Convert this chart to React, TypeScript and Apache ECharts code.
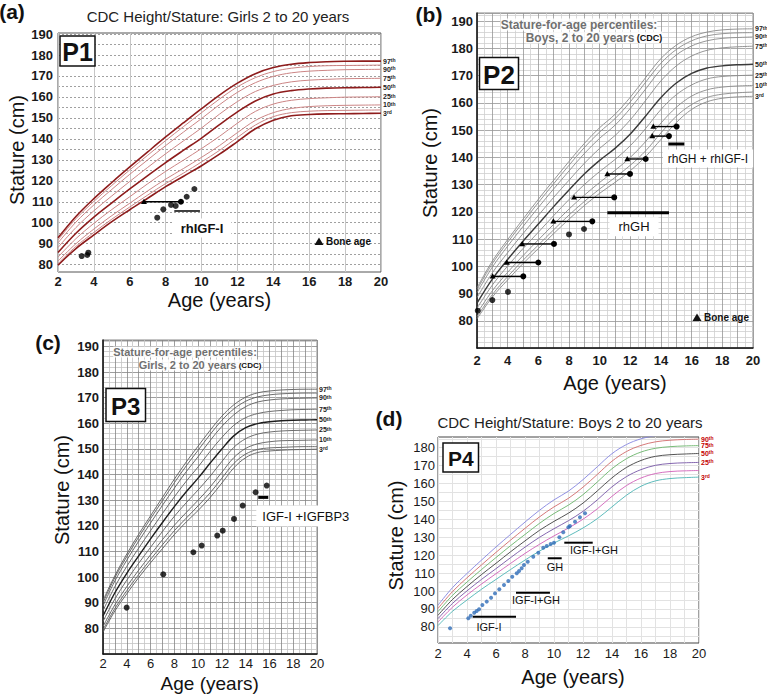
import React, { useEffect, useRef } from 'react';
import * as echarts from 'echarts';

const FONT = "'Liberation Sans', Arial, Helvetica, sans-serif";

// ---------- reference curves (age in years, stature in cm) ----------
const AGES = [2, 3, 4, 5, 6, 7, 8, 9, 10, 11, 12, 13, 14, 15, 16, 17, 18, 19, 20];

// panel (a) girls chart
const A_P3 = [79.8, 87.7, 94.2, 100.5, 106.2, 111.7, 117.2, 122.2, 127.2, 132.7, 138.7, 144.8, 148.9, 151.0, 151.6, 151.9, 152.0, 152.1, 152.2];
const A_P5 = [80.5, 88.7, 95.4, 101.7, 107.5, 113.2, 118.7, 123.7, 129.0, 134.5, 140.7, 146.6, 150.6, 152.5, 153.2, 153.5, 153.6, 153.7, 153.8];
const A_P10 = [81.7, 90.0, 97.0, 103.4, 109.3, 115.2, 120.8, 125.9, 131.2, 136.8, 143.0, 148.8, 152.5, 154.5, 155.4, 155.8, 156.0, 156.1, 156.2];
const A_P25 = [83.6, 92.4, 99.7, 106.3, 112.4, 118.6, 124.5, 129.9, 135.4, 141.2, 147.5, 153.1, 156.6, 158.4, 159.2, 159.6, 159.9, 160.0, 160.1];
const A_P50 = [85.8, 95.0, 102.7, 109.5, 116.1, 122.5, 128.7, 134.6, 140.4, 146.8, 152.9, 158.1, 161.4, 163.0, 163.8, 164.2, 164.4, 164.5, 164.6];
const A_P75 = [88.2, 97.7, 105.7, 112.8, 119.7, 126.4, 132.9, 139.1, 145.2, 151.8, 157.8, 162.6, 165.5, 167.2, 168.0, 168.4, 168.7, 168.8, 168.9];
const A_P90 = [90.4, 100.3, 108.5, 115.9, 123.1, 130.0, 136.8, 143.3, 149.7, 156.3, 162.2, 166.8, 169.8, 171.5, 172.3, 172.7, 173.0, 173.1, 173.2];
const A_P95 = [91.8, 101.9, 110.2, 117.8, 125.2, 132.2, 139.2, 145.9, 152.5, 159.0, 164.8, 169.2, 172.1, 173.7, 174.5, 174.9, 175.0, 175.1, 175.2];
const A_P97 = [92.8, 103.0, 111.5, 119.2, 126.6, 133.8, 140.9, 147.7, 154.4, 160.9, 166.6, 171.1, 174.0, 175.6, 176.4, 176.8, 177.0, 177.1, 177.1];

// panel (b) boys chart
const B_P3 = [80.7, 88.7, 95.0, 101.0, 106.5, 112.0, 117.3, 122.3, 126.8, 130.8, 135.1, 140.3, 146.6, 152.8, 157.6, 160.4, 161.7, 162.2, 162.4];
const B_P5 = [81.5, 89.6, 96.2, 102.2, 107.8, 113.4, 118.8, 123.8, 128.4, 132.6, 137.1, 142.4, 149.0, 155.1, 159.4, 162.0, 163.2, 163.7, 164.0];
const B_P10 = [82.7, 91.0, 97.8, 103.9, 109.7, 115.4, 121.0, 126.1, 130.8, 135.2, 140.0, 145.8, 152.6, 158.4, 162.5, 164.8, 165.8, 166.2, 166.4];
const B_P25 = [84.6, 93.1, 100.1, 106.5, 112.5, 118.6, 124.5, 130.0, 134.8, 139.2, 144.3, 150.6, 157.6, 163.0, 166.6, 168.8, 169.7, 170.0, 170.2];
const B_P50 = [86.5, 95.3, 102.5, 109.2, 115.5, 121.9, 128.0, 133.9, 138.9, 143.3, 148.6, 155.2, 162.0, 167.3, 170.8, 172.8, 173.6, 174.0, 174.2];
const B_P75 = [88.5, 97.6, 105.0, 112.0, 118.7, 125.3, 131.6, 137.8, 143.3, 148.0, 153.8, 160.9, 168.1, 173.6, 177.2, 179.3, 180.2, 180.6, 180.8];
const B_P90 = [90.3, 99.7, 107.4, 114.6, 121.6, 128.4, 135.0, 141.4, 147.0, 151.8, 158.0, 165.1, 172.3, 177.6, 180.9, 182.8, 183.7, 184.0, 184.2];
const B_P95 = [91.4, 101.0, 108.8, 116.2, 123.4, 130.3, 137.1, 143.6, 149.3, 154.2, 160.4, 167.6, 174.6, 179.6, 182.8, 184.6, 185.4, 185.7, 185.8];
const B_P97 = [92.1, 101.9, 109.8, 117.3, 124.6, 131.6, 138.5, 145.1, 150.9, 155.8, 162.1, 169.3, 176.3, 181.2, 184.3, 186.0, 186.8, 187.1, 187.2];

// panel (c) girls chart
const C_P3 = [78.5, 86.8, 93.5, 99.8, 105.6, 111.1, 116.6, 121.5, 126.0, 131.0, 136.7, 142.6, 146.6, 148.6, 149.2, 149.5, 149.7, 149.8, 149.9];
const C_P5 = [79.4, 87.8, 94.7, 101.0, 106.9, 112.6, 118.1, 123.0, 127.8, 132.8, 138.6, 144.3, 148.0, 149.8, 150.4, 150.6, 150.8, 150.9, 150.9];
const C_P10 = [80.7, 89.2, 96.3, 102.7, 108.7, 114.6, 120.2, 125.2, 130.0, 135.1, 140.9, 146.6, 150.2, 152.0, 152.8, 153.2, 153.3, 153.4, 153.5];
const C_P25 = [82.7, 91.5, 98.8, 105.4, 111.6, 117.8, 123.7, 129.0, 134.0, 139.3, 145.1, 150.6, 154.0, 155.8, 156.6, 157.0, 157.2, 157.3, 157.4];
const C_P50 = [84.8, 93.9, 101.5, 108.3, 114.9, 121.3, 127.5, 133.3, 138.6, 144.4, 150.0, 155.1, 158.3, 159.9, 160.6, 161.0, 161.2, 161.3, 161.4];
const C_P75 = [86.9, 96.3, 104.2, 111.3, 118.1, 124.8, 131.3, 137.4, 143.0, 149.0, 154.5, 159.2, 162.2, 163.8, 164.6, 165.0, 165.3, 165.4, 165.5];
const C_P90 = [88.8, 98.5, 106.6, 114.0, 121.1, 128.0, 134.7, 141.1, 147.0, 153.2, 158.8, 163.3, 166.5, 168.3, 169.1, 169.5, 169.7, 169.8, 169.9];
const C_P95 = [90.0, 99.8, 108.0, 115.6, 122.8, 129.8, 136.8, 143.4, 149.5, 155.6, 161.2, 165.6, 168.6, 170.3, 171.1, 171.5, 171.7, 171.8, 171.8];
const C_P97 = [90.9, 100.6, 109.0, 116.7, 123.9, 131.1, 138.2, 144.9, 151.1, 157.2, 162.8, 167.2, 170.2, 171.9, 172.6, 173.0, 173.2, 173.3, 173.3];

// panel (d) boys chart
const D_P3 = [80.7, 88.7, 95.0, 101.0, 106.5, 112.0, 117.3, 122.3, 126.8, 130.8, 135.2, 140.5, 147.0, 153.5, 158.5, 161.5, 162.8, 163.3, 163.6];
const D_P10 = [82.7, 91.0, 97.8, 103.9, 109.7, 115.4, 121.0, 126.1, 130.8, 135.2, 140.1, 146.0, 152.9, 158.9, 163.1, 165.6, 166.7, 167.1, 167.3];
const D_P25 = [84.6, 93.1, 100.1, 106.5, 112.5, 118.6, 124.5, 130.0, 134.8, 139.3, 144.5, 151.0, 158.2, 163.9, 167.8, 170.2, 171.2, 171.6, 171.8];
const D_P50 = [86.5, 95.3, 102.5, 109.2, 115.5, 121.9, 128.0, 133.9, 138.9, 143.5, 149.1, 156.0, 163.2, 169.0, 172.9, 175.2, 176.1, 176.5, 176.8];
const D_P75 = [88.5, 97.6, 105.0, 112.0, 118.7, 125.3, 131.6, 137.8, 143.3, 148.0, 153.8, 161.0, 168.3, 173.9, 177.6, 179.7, 180.6, 181.0, 181.2];
const D_P90 = [90.3, 99.7, 107.4, 114.6, 121.6, 128.4, 135.0, 141.4, 147.0, 151.8, 158.0, 165.2, 172.5, 177.9, 181.3, 183.3, 184.2, 184.6, 184.8];
const D_P97 = [92.1, 101.9, 109.8, 117.3, 124.6, 131.6, 138.5, 145.1, 150.9, 155.8, 162.2, 169.5, 176.7, 181.8, 185.0, 186.8, 187.6, 188.0, 188.2];

// ---------- tick labels ----------
const X_TICK_LABELS = [2, 4, 6, 8, 10, 12, 14, 16, 18, 20];
const Y_TICK_LABELS = [80, 90, 100, 110, 120, 130, 140, 150, 160, 170, 180, 190];
const Y_TICK_LABELS_D = [80, 90, 100, 110, 120, 130, 140, 150, 160, 170, 180];
const Y_LINES_A = [80, 85, 90, 95, 100, 105, 110, 115, 120, 125, 130, 135, 140, 145, 150, 155, 160, 165, 170, 175, 180, 185, 190];
const Y_LINES_D = [75, 80, 85, 90, 95, 100, 105, 110, 115, 120, 125, 130, 135, 140, 145, 150, 155, 160, 165, 170, 175, 180, 185];
const PCT_LABELS = ['97th', '90th', '75th', '50th', '25th', '10th', '3rd'];
const PCT_LABELS_D = ['90th', '75th', '50th', '25th', '3rd'];

// ---------- P1 ----------
const P1_AGE = [3.32, 3.63, 3.69, 7.53, 7.87, 8.3, 8.56, 9.17, 9.6];
const P1_HEIGHT = [84.1, 84.6, 85.7, 102.4, 106.4, 108.5, 108.0, 112.4, 116.1];
const P1_BONE_AGE = [6.79];
const P1_BONE_CHRONO = [8.85];
const P1_BONE_HEIGHT = [110.0];
const P1_TX_START = [8.48];
const P1_TX_END = [9.91];
const P1_TX_HEIGHT = [105.6];

// ---------- P2 ----------
const P2_AGE = [2.05, 3.0, 4.02, 8.0, 8.98];
const P2_HEIGHT = [83.7, 87.6, 90.6, 111.7, 113.7];
const P2_BONE_AGE = [3.02, 3.94, 4.95, 6.98, 8.33, 10.5, 11.8, 13.43, 13.5];
const P2_BONE_CHRONO = [5.02, 6.0, 7.02, 9.52, 10.95, 11.98, 13.0, 14.52, 15.02];
const P2_BONE_HEIGHT = [96.3, 101.4, 108.2, 116.5, 125.3, 133.9, 139.4, 147.8, 151.3];
const P2_TX_START = [10.5, 14.48];
const P2_TX_END = [14.52, 15.52];
const P2_TX_HEIGHT = [119.7, 144.9];

// ---------- P3 ----------
const P3_AGE = [3.99, 7.07, 9.6, 10.3, 11.61, 12.07, 13.02, 13.75, 14.84, 15.77];
const P3_HEIGHT = [88.1, 101.1, 109.7, 112.3, 116.2, 118.1, 122.7, 127.9, 133.1, 135.7];
const P3_TX_START = [15.06];
const P3_TX_END = [15.9];
const P3_TX_HEIGHT = [131.1];

// ---------- P4 ----------
const P4_AGE = [2.83, 4.09, 4.26, 4.5, 4.67, 4.83, 5.06, 5.36, 5.66, 5.93, 6.23, 6.55, 6.85, 7.12, 7.43, 7.59, 7.77, 7.93, 8.19, 8.57, 8.92, 9.26, 9.5, 9.77, 10.0, 10.37, 10.64, 10.99, 11.1, 11.45, 11.79, 12.14];
const P4_HEIGHT = [79.2, 84.8, 86.2, 87.9, 88.9, 89.8, 92.2, 94.1, 96.3, 98.7, 101.0, 103.4, 105.6, 108.0, 109.9, 111.2, 112.7, 114.5, 116.4, 119.2, 121.4, 124.2, 125.2, 126.3, 127.0, 130.0, 132.8, 135.6, 136.3, 138.7, 141.2, 143.4];
const P4_TX_START = [4.39, 7.38, 9.57, 10.71];
const P4_TX_END = [7.38, 9.72, 10.53, 12.67];
const P4_TX_HEIGHT = [85.7, 99.1, 118.3, 127.0];

// ---------- helpers ----------
const pairs = (xs: number[], ys: number[]) => xs.map((x, i) => [x, ys[i]]);
const triples = (a: number[], b: number[], c: number[]) => a.map((v, i) => [v, b[i], c[i]]);

function pctLabel(text: string, color: string) {
  const m = text.match(/^(\d+)(\D+)$/) || ['', text, ''];
  return {
    show: true,
    distance: 2,
    formatter: () => `{n|${m[1]}}{s|${m[2]}}`,
    rich: {
      n: { fontSize: 7, fontWeight: 'bold', color, fontFamily: FONT },
      s: { fontSize: 5, fontWeight: 'bold', color, fontFamily: FONT, verticalAlign: 'top' },
    },
  };
}

function curve(idx: number, vals: number[], color: string, width: number, label?: string, labelColor?: string) {
  return {
    type: 'line',
    xAxisIndex: idx,
    yAxisIndex: idx,
    data: pairs(AGES, vals),
    smooth: 0.35,
    symbol: 'none',
    showSymbol: false,
    silent: true,
    lineStyle: { color, width },
    z: 3,
    endLabel: label ? pctLabel(label, labelColor || '#222') : { show: false },
    emphasis: { disabled: true },
  };
}

function dots(idx: number, xs: number[], ys: number[], color: string, size: number) {
  return {
    type: 'scatter',
    xAxisIndex: idx,
    yAxisIndex: idx,
    data: pairs(xs, ys),
    symbol: 'circle',
    symbolSize: size,
    itemStyle: { color },
    silent: true,
    z: 6,
  };
}

function boneSegments(idx: number, bone: number[], chrono: number[], h: number[]) {
  return {
    type: 'custom',
    coordinateSystem: 'cartesian2d',
    xAxisIndex: idx,
    yAxisIndex: idx,
    data: triples(bone, chrono, h),
    encode: { x: [0, 1], y: 2 },
    silent: true,
    z: 6,
    renderItem: (_p: any, api: any) => {
      const a = api.coord([api.value(0), api.value(2)]);
      const b = api.coord([api.value(1), api.value(2)]);
      return {
        type: 'group',
        children: [
          { type: 'line', shape: { x1: a[0], y1: a[1], x2: b[0], y2: b[1] }, style: { stroke: '#000', lineWidth: 1.4 } },
          { type: 'polygon', shape: { points: [[a[0], a[1] - 3], [a[0] - 3, a[1] + 2.2], [a[0] + 3, a[1] + 2.2]] }, style: { fill: '#000' } },
          { type: 'circle', shape: { cx: b[0], cy: b[1], r: 3 }, style: { fill: '#000' } },
        ],
      };
    },
  };
}

function bars(idx: number, s: number[], e: number[], h: number[], width: number) {
  return {
    type: 'custom',
    coordinateSystem: 'cartesian2d',
    xAxisIndex: idx,
    yAxisIndex: idx,
    data: triples(s, e, h),
    encode: { x: [0, 1], y: 2 },
    silent: true,
    z: 6,
    renderItem: (_p: any, api: any) => {
      const a = api.coord([api.value(0), api.value(2)]);
      const b = api.coord([api.value(1), api.value(2)]);
      return { type: 'line', shape: { x1: a[0], y1: a[1], x2: b[0], y2: b[1] }, style: { stroke: '#000', lineWidth: width } };
    },
  };
}

function txt(x: number, y: number, text: string, o: any = {}) {
  return {
    type: 'text',
    x,
    y,
    z: 100,
    silent: true,
    rotation: o.rotation || 0,
    style: {
      text,
      fontFamily: FONT,
      fontSize: o.fontSize || 13,
      fontWeight: o.fontWeight || 'normal',
      fill: o.fill || '#111',
      align: o.align || 'center',
      verticalAlign: 'middle',
      textAlign: o.align || 'center',
      textVerticalAlign: 'middle',
      backgroundColor: o.bg,
      padding: o.padding,
      rich: o.rich,
    },
  };
}

function pbox(x: number, y: number, w: number, h: number, label: string, fs: number) {
  return [
    { type: 'rect', z: 99, silent: true, shape: { x, y, width: w, height: h }, style: { fill: '#fff', stroke: '#111', lineWidth: 1.5 } },
    txt(x + w / 2, y + h / 2 + 1, label, { fontSize: fs, fontWeight: 'bold' }),
  ];
}

function tri(cx: number, cy: number) {
  return { type: 'polygon', z: 100, silent: true, shape: { points: [[cx, cy - 4], [cx - 4.5, cy + 3.5], [cx + 4.5, cy + 3.5]] }, style: { fill: '#111' } };
}

const GRIDS = [
  { left: 58, top: 33, width: 323, height: 239 },
  { left: 477, top: 13, width: 276, height: 335 },
  { left: 103, top: 340, width: 214, height: 314 },
  { left: 438, top: 437, width: 261, height: 206 },
];

function buildOption() {
  const lab = (bold: boolean, margin: number, custom: number[]) => ({
    customValues: custom,
    fontSize: 13,
    fontWeight: bold ? 'bold' : 'normal',
    color: '#1a1a1a',
    fontFamily: FONT,
    margin,
  });

  const xAxis = [
    {
      gridIndex: 0, type: 'value', min: 2, max: 20, interval: 2,
      axisLine: { show: false }, axisTick: { show: false },
      axisLabel: lab(true, 3, X_TICK_LABELS),
      splitLine: { show: true, lineStyle: { color: '#c6c6c6', width: 1 } },
    },
    {
      gridIndex: 1, type: 'value', min: 2, max: 20, interval: 1,
      axisLine: { show: true, onZero: false, lineStyle: { color: '#111', width: 1.5 } }, axisTick: { show: false },
      axisLabel: lab(true, 6, X_TICK_LABELS),
      splitLine: { show: true, lineStyle: { color: '#969696', width: 0.8 } },
      minorTick: { show: false, splitNumber: 2 },
      minorSplitLine: { show: true, lineStyle: { color: '#cfcfcf', width: 0.8 } },
    },
    {
      gridIndex: 2, type: 'value', min: 2, max: 20, interval: 1,
      axisLine: { show: true, onZero: false, lineStyle: { color: '#111', width: 1.5 } }, axisTick: { show: false },
      axisLabel: lab(false, 3, X_TICK_LABELS),
      splitLine: { show: true, lineStyle: { color: '#858585', width: 0.8 } },
      minorTick: { show: false, splitNumber: 2 },
      minorSplitLine: { show: true, lineStyle: { color: '#c4c4c4', width: 0.8 } },
    },
    {
      gridIndex: 3, type: 'value', min: 2, max: 20, interval: 1,
      axisLine: { show: false }, axisTick: { show: false },
      axisLabel: lab(false, 4, X_TICK_LABELS),
      splitLine: { show: true, lineStyle: { color: '#e2e2e2', width: 1 } },
    },
  ];

  const yAxis = [
    {
      gridIndex: 0, type: 'value', min: 76.5, max: 190.5,
      axisLine: { show: false }, axisTick: { show: false, customValues: Y_LINES_A },
      axisLabel: lab(true, 5, Y_TICK_LABELS),
      splitLine: { show: true, lineStyle: { color: '#a0a0a0', width: 1, type: [2, 2] } },
    },
    {
      gridIndex: 1, type: 'value', min: 70, max: 193, interval: 10,
      axisLine: { show: true, onZero: false, lineStyle: { color: '#111', width: 1.5 } }, axisTick: { show: false },
      axisLabel: lab(true, 4, Y_TICK_LABELS),
      splitLine: { show: true, lineStyle: { color: '#969696', width: 0.8 } },
      minorTick: { show: false, splitNumber: 5 },
      minorSplitLine: { show: true, lineStyle: { color: '#cfcfcf', width: 0.8 } },
    },
    {
      gridIndex: 2, type: 'value', min: 70, max: 192.5, interval: 10,
      axisLine: { show: true, onZero: false, lineStyle: { color: '#111', width: 1.5 } }, axisTick: { show: false },
      axisLabel: lab(true, 4, Y_TICK_LABELS),
      splitLine: { show: true, lineStyle: { color: '#858585', width: 0.8 } },
      minorTick: { show: false, splitNumber: 5 },
      minorSplitLine: { show: true, lineStyle: { color: '#c4c4c4', width: 0.8 } },
    },
    {
      gridIndex: 3, type: 'value', min: 71, max: 186,
      axisLine: { show: false }, axisTick: { show: false, customValues: Y_LINES_D },
      axisLabel: lab(false, 3, Y_TICK_LABELS_D),
      splitLine: { show: true, lineStyle: { color: '#e2e2e2', width: 1 } },
    },
  ];

  const grid = GRIDS.map((g, i) => ({
    ...g,
    show: true,
    backgroundColor: '#fff',
    borderColor: i === 0 ? '#555' : i === 3 ? '#444' : '#888',
    borderWidth: 1,
    containLabel: false,
  }));

  const darkA = '#8e1c1c';
  const lightA = '#cc8585';
  const grayB = '#8a8a8a';
  const grayC = '#5c5c5c';

  const series: any[] = [
    // P1 curves (girls)
    curve(0, A_P3, darkA, 1.6, PCT_LABELS[6]),
    curve(0, A_P5, lightA, 1),
    curve(0, A_P10, lightA, 1, PCT_LABELS[5]),
    curve(0, A_P25, lightA, 1, PCT_LABELS[4]),
    curve(0, A_P50, darkA, 1.6, PCT_LABELS[3]),
    curve(0, A_P75, lightA, 1, PCT_LABELS[2]),
    curve(0, A_P90, lightA, 1, PCT_LABELS[1]),
    curve(0, A_P95, lightA, 1),
    curve(0, A_P97, darkA, 1.6, PCT_LABELS[0]),
    dots(0, P1_AGE, P1_HEIGHT, '#000', 6),
    boneSegments(0, P1_BONE_AGE, P1_BONE_CHRONO, P1_BONE_HEIGHT),
    bars(0, P1_TX_START, P1_TX_END, P1_TX_HEIGHT, 1.5),

    // P2 curves (boys)
    curve(1, B_P3, grayB, 0.9, PCT_LABELS[6]),
    curve(1, B_P5, grayB, 0.9),
    curve(1, B_P10, grayB, 0.9, PCT_LABELS[5]),
    curve(1, B_P25, grayB, 0.9, PCT_LABELS[4]),
    curve(1, B_P50, '#3a3a3a', 1.4, PCT_LABELS[3]),
    curve(1, B_P75, grayB, 0.9, PCT_LABELS[2]),
    curve(1, B_P90, grayB, 0.9, PCT_LABELS[1]),
    curve(1, B_P95, grayB, 0.9),
    curve(1, B_P97, grayB, 0.9, PCT_LABELS[0]),
    dots(1, P2_AGE, P2_HEIGHT, '#000', 6),
    boneSegments(1, P2_BONE_AGE, P2_BONE_CHRONO, P2_BONE_HEIGHT),
    bars(1, P2_TX_START, P2_TX_END, P2_TX_HEIGHT, 3),

    // P3 curves (girls)
    curve(2, C_P3, grayC, 0.9, PCT_LABELS[6]),
    curve(2, C_P5, grayC, 0.9),
    curve(2, C_P10, grayC, 0.9, PCT_LABELS[5]),
    curve(2, C_P25, grayC, 0.9, PCT_LABELS[4]),
    curve(2, C_P50, '#1e1e1e', 1.4, PCT_LABELS[3]),
    curve(2, C_P75, grayC, 0.9, PCT_LABELS[2]),
    curve(2, C_P90, grayC, 0.9, PCT_LABELS[1]),
    curve(2, C_P95, grayC, 0.9),
    curve(2, C_P97, grayC, 0.9, PCT_LABELS[0]),
    dots(2, P3_AGE, P3_HEIGHT, '#000', 6),
    bars(2, P3_TX_START, P3_TX_END, P3_TX_HEIGHT, 3),

    // P4 curves (boys)
    curve(3, D_P97, '#8484e0', 0.9),
    curve(3, D_P90, '#d06a6a', 0.9, PCT_LABELS_D[0], '#c40000'),
    curve(3, D_P75, '#6ab46a', 0.9, PCT_LABELS_D[1], '#c40000'),
    curve(3, D_P50, '#404040', 0.9, PCT_LABELS_D[2], '#c40000'),
    curve(3, D_P25, '#7656a6', 0.9, PCT_LABELS_D[3], '#c40000'),
    curve(3, D_P10, '#d060b8', 0.9),
    curve(3, D_P3, '#4cb4b4', 0.9, PCT_LABELS_D[4], '#c40000'),
    dots(3, P4_AGE, P4_HEIGHT, '#2f6db8', 4),
    bars(3, P4_TX_START, P4_TX_END, P4_TX_HEIGHT, 2),
  ];

  const graphic: any[] = [
    // panel (a)
    txt(12, 11, '(a)', { fontSize: 21, fontWeight: 'bold' }),
    txt(218, 16, 'CDC Height/Stature: Girls 2 to 20 years', { fontSize: 15, fill: '#222' }),
    ...pbox(60, 36, 35, 30, 'P1', 25),
    txt(17, 150, 'Stature (cm)', { fontSize: 20, rotation: Math.PI / 2 }),
    txt(219.5, 300, 'Age (years)', { fontSize: 20 }),
    txt(202, 228, 'rhIGF-I', { fontSize: 13, fontWeight: 'bold', bg: '#fff', padding: [3, 8] }),
    tri(319, 241.5),
    txt(326, 241.7, 'Bone age', { fontSize: 10, fontWeight: 'bold', align: 'left' }),

    // panel (b)
    txt(429, 14, '(b)', { fontSize: 21, fontWeight: 'bold' }),
    txt(579, 24.5, 'Stature-for-age percentiles:', { fontSize: 12, fontWeight: 'bold', fill: '#707070', bg: 'rgba(255,255,255,0.85)' }),
    txt(594, 37.5, '{g|Boys, 2 to 20 years}{k| (CDC)}', {
      bg: 'rgba(255,255,255,0.85)',
      rich: {
        g: { fontSize: 12, fontWeight: 'bold', fill: '#707070', fontFamily: FONT },
        k: { fontSize: 9, fontWeight: 'bold', fill: '#111', fontFamily: FONT },
      },
    }),
    ...pbox(479.5, 57.5, 39, 32, 'P2', 26),
    txt(430, 163, 'Stature (cm)', { fontSize: 20, rotation: Math.PI / 2 }),
    txt(615, 383, 'Age (years)', { fontSize: 20 }),
    txt(634, 226.7, 'rhGH', { fontSize: 13, bg: '#fff', padding: [3, 9] }),
    txt(708, 158.5, 'rhGH + rhIGF-I', { fontSize: 12, bg: '#fff', padding: [3, 5] }),
    tri(697, 317.5),
    txt(704, 317.7, 'Bone age', { fontSize: 10, fontWeight: 'bold', align: 'left' }),

    // panel (c)
    txt(48, 342, '(c)', { fontSize: 21, fontWeight: 'bold' }),
    txt(185, 352, 'Stature-for-age percentiles:', { fontSize: 11, fontWeight: 'bold', fill: '#707070', bg: 'rgba(255,255,255,0.85)' }),
    txt(200, 365, '{g|Girls, 2 to 20 years}{k| (CDC)}', {
      bg: 'rgba(255,255,255,0.85)',
      rich: {
        g: { fontSize: 11, fontWeight: 'bold', fill: '#707070', fontFamily: FONT },
        k: { fontSize: 8, fontWeight: 'bold', fill: '#111', fontFamily: FONT },
      },
    }),
    ...pbox(106, 388.5, 39.5, 33, 'P3', 24),
    txt(62, 490, 'Stature (cm)', { fontSize: 20, rotation: Math.PI / 2 }),
    txt(209.7, 683.3, 'Age (years)', { fontSize: 19 }),
    txt(305.8, 516, 'IGF-I +IGFBP3', { fontSize: 13, bg: '#fff', padding: [4, 6] }),

    // panel (d)
    txt(389, 418, '(d)', { fontSize: 21, fontWeight: 'bold' }),
    txt(570, 422, 'CDC Height/Stature: Boys 2 to 20 years', { fontSize: 15, fill: '#222' }),
    ...pbox(443, 443, 35.5, 29, 'P4', 21),
    txt(396, 535.5, 'Stature (cm)', { fontSize: 20, rotation: Math.PI / 2 }),
    txt(573, 676.7, 'Age (years)', { fontSize: 20 }),
    txt(489, 626.7, 'IGF-I', { fontSize: 11 }),
    txt(536, 600, 'IGF-I+GH', { fontSize: 11 }),
    txt(555, 567.3, 'GH', { fontSize: 11 }),
    txt(594, 550, 'IGF-I+GH', { fontSize: 11 }),
  ];

  return {
    animation: false,
    backgroundColor: '#fff',
    textStyle: { fontFamily: FONT },
    grid,
    xAxis,
    yAxis,
    series,
    graphic,
  };
}

export default function App() {
  const ref = useRef<HTMLDivElement>(null);
  useEffect(() => {
    if (!ref.current) return;
    const chart = echarts.init(ref.current, null, { renderer: 'svg' });
    chart.setOption(buildOption() as any);
    return () => chart.dispose();
  }, []);
  return (
    <div
      ref={ref}
      style={{ position: 'absolute', left: 0, top: 0, width: 767, height: 694, background: '#fff' }}
    />
  );
}
